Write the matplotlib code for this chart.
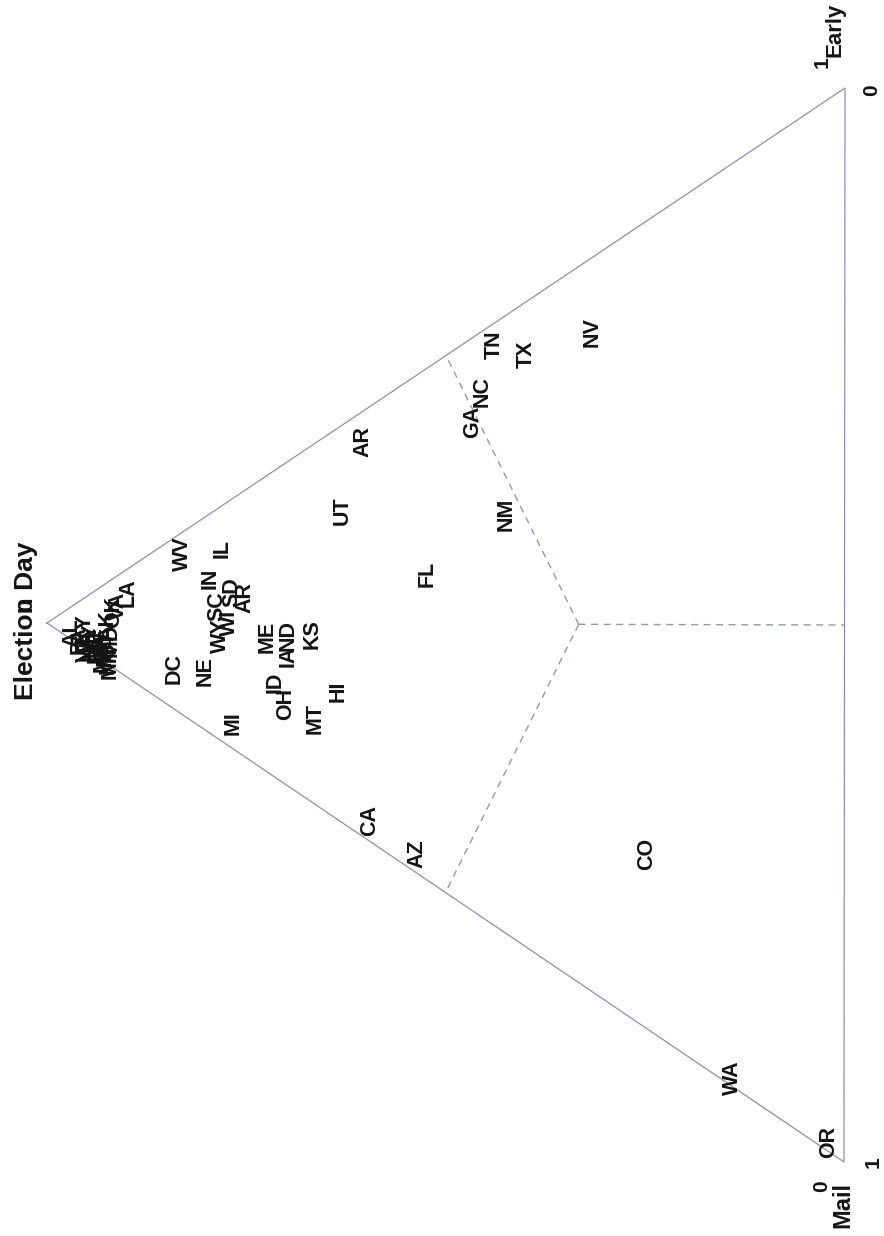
import numpy as np
import matplotlib
matplotlib.use("Agg")
import matplotlib.pyplot as plt

plt.rcParams['font.family'] = ['Liberation Sans', 'DejaVu Sans']

# share of ballots by mode (election day, early in-person, mail)
states = ["AR", "UT", "FL", "WV", "IL", "IN", "SD", "AR", "SC", "WI",
          "WY", "NE", "DC", "MI", "ME", "ND", "IA", "ID", "OH", "KS",
          "HI", "MT", "TN", "TX", "NV", "GA", "NC", "NM", "CA", "AZ",
          "CO", "WA", "OR",
          "AL", "PA", "KY", "NH", "NY", "NJ", "VT", "RI", "CT", "MA",
          "DE", "MS", "MO", "MN", "MD", "AK", "OK", "VA", "LA"]
election_day = [0.604, 0.629, 0.524, 0.830, 0.780, 0.796, 0.768, 0.752, 0.787, 0.771,
                0.783, 0.802, 0.840, 0.767, 0.724, 0.698, 0.698, 0.714, 0.702, 0.667,
                0.635, 0.664, 0.439, 0.399, 0.317, 0.467, 0.455, 0.424, 0.595, 0.536,
                0.248, 0.140, 0.019,
                0.969, 0.961, 0.952, 0.949, 0.946, 0.940, 0.952, 0.939, 0.936, 0.931,
                0.931, 0.924, 0.927, 0.921, 0.921, 0.924, 0.917, 0.911, 0.898]
early = [0.368, 0.290, 0.285, 0.150, 0.180, 0.144, 0.145, 0.148, 0.123, 0.115,
         0.097, 0.055, 0.038, 0.024, 0.126, 0.140, 0.121, 0.088, 0.075, 0.157,
         0.120, 0.080, 0.541, 0.552, 0.614, 0.455, 0.490, 0.390, 0.019, 0.018,
         0.162, 0.008, 0.009,
         0.007, 0.004, 0.019, 0.005, 0.014, 0.012, 0.001, 0.004, 0.009, 0.005,
         0.019, 0.006, 0.013, 0.003, 0.024, 0.036, 0.052, 0.061, 0.079]
mail = [0.028, 0.080, 0.192, 0.020, 0.040, 0.060, 0.087, 0.100, 0.090, 0.114,
        0.120, 0.143, 0.122, 0.209, 0.150, 0.162, 0.181, 0.198, 0.224, 0.176,
        0.245, 0.256, 0.020, 0.049, 0.069, 0.078, 0.056, 0.186, 0.386, 0.446,
        0.590, 0.852, 0.972,
        0.024, 0.036, 0.028, 0.046, 0.040, 0.049, 0.047, 0.058, 0.055, 0.064,
        0.050, 0.071, 0.060, 0.076, 0.056, 0.040, 0.031, 0.029, 0.023]

axis_names = ["Election Day", "Early", "Mail"]

# corner positions on the page (pixels), the plot is turned on its side
V_ELEC = np.array([47.0, 623.0])
V_EARLY = np.array([845.0, 88.0])
V_MAIL = np.array([844.0, 1162.0])

EDGE = '#8a8fb8'
DASH = '#8f96c0'
INK = '#141414'


def project(e, r, m):
    tot = e + r + m
    return (e * V_ELEC + r * V_EARLY + m * V_MAIL) / tot


fig = plt.figure(figsize=(8.84, 12.36), dpi=100)
ax = fig.add_axes([0, 0, 1, 1])
ax.set_xlim(0, 884)
ax.set_ylim(1236, 0)
ax.axis('off')

# triangle frame
corners = [project(1, 0, 0), project(0, 1, 0), project(0, 0, 1), project(1, 0, 0)]
ax.plot([c[0] for c in corners], [c[1] for c in corners], color=EDGE, lw=0.9)

# plurality boundaries: centroid to the middle of each side
center = project(1, 1, 1)
for mid in [project(1, 1, 0), project(0, 1, 1), project(1, 0, 1)]:
    ax.plot([center[0], mid[0]], [center[1], mid[1]], color=DASH, lw=1.0,
            linestyle=(0, (5, 4)))

# state labels
for name, e, r, m in zip(states, election_day, early, mail):
    x, y = project(e, r, m)
    ax.text(x, y, name, rotation=90, ha='center', va='center',
            fontsize=15.5, fontweight='bold', color=INK)

# corner labels and 0/1 marks
ax.text(V_ELEC[0] - 21, V_ELEC[1] - 2, axis_names[0], rotation=90,
        ha='center', va='center', fontsize=19, fontweight='bold', color=INK)
ax.text(V_ELEC[0] - 20, V_ELEC[1] - 18, "0", rotation=90,
        ha='center', va='center', fontsize=15, fontweight='bold', color=INK)

ax.text(V_EARLY[0] - 10, V_EARLY[1] - 58, axis_names[1], rotation=90,
        ha='center', va='center', fontsize=16, fontweight='bold', color=INK)
ax.text(V_EARLY[0] - 23, V_EARLY[1] - 26, "1", rotation=90,
        ha='center', va='center', fontsize=15, fontweight='bold', color=INK)
ax.text(V_EARLY[0] + 27, V_EARLY[1] + 2, "0", rotation=90,
        ha='center', va='center', fontsize=15, fontweight='bold', color=INK)

ax.text(V_MAIL[0] - 1, V_MAIL[1] + 43, axis_names[2], rotation=90,
        ha='center', va='center', fontsize=17, fontweight='bold', color=INK)
ax.text(V_MAIL[0] - 22, V_MAIL[1] + 24, "0", rotation=90,
        ha='center', va='center', fontsize=15, fontweight='bold', color=INK)
ax.text(V_MAIL[0] + 29, V_MAIL[1], "1", rotation=90,
        ha='center', va='center', fontsize=15, fontweight='bold', color=INK)

fig.savefig("out.png", dpi=100)
plt.close(fig)
